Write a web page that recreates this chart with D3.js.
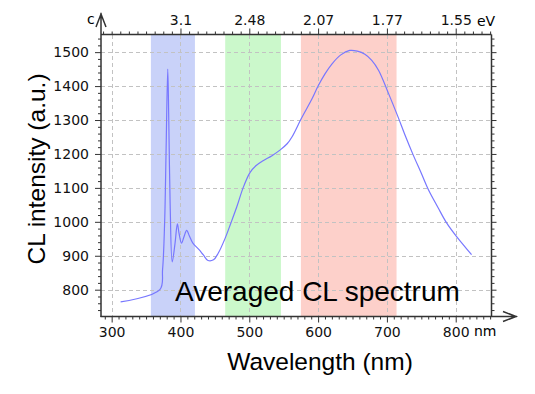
<!DOCTYPE html>
<html>
<head>
<meta charset="utf-8">
<script src="https://cdn.jsdelivr.net/npm/d3@7"></script>
<style>
  body { margin: 0; background: #fff; }
  text { font-family: "DejaVu Sans", Verdana, sans-serif; }
  .title { font-family: "Liberation Sans", Arial, sans-serif; }
  .grid line { stroke: #c2c2c2; stroke-width: 1px; stroke-dasharray: 4 3; shape-rendering: crispEdges; }
</style>
</head>
<body>
<div id="chart"></div>
<script>
// spectrum: wavelength (nm) and CL intensity (a.u.)
const wavelength = [313, 370, 374, 377, 379, 381.5, 383, 385, 388, 392, 395.5, 398, 401.5, 405, 409, 413, 418, 427, 433,
  440, 448, 455, 465, 473, 482, 491, 501, 510, 520, 533, 545, 555, 562, 576, 591, 600, 610, 620, 633, 646, 657, 668,
  678, 688, 702, 716, 727, 738, 750, 760, 774, 787, 801, 812, 823];
const intensity = [764, 800, 860, 1000, 1200, 1450, 1300, 1050, 882, 935, 994, 965, 937, 955, 975, 958, 937, 918, 903,
  886, 888, 908, 952, 995, 1045, 1100, 1145, 1166, 1180, 1195, 1212, 1230, 1250, 1306, 1362, 1400, 1436, 1465, 1492, 1505, 1503, 1494,
  1476, 1446, 1380, 1310, 1252, 1198, 1143, 1096, 1043, 996, 957, 930, 903];

// coloured wavelength bands [start, end] in nm
const bandStart = [357, 465, 575];
const bandEnd = [421, 546, 714];
const bandColor = ["#c9d2f9", "#cbf8cb", "#fdd0ca"];

const xTicks = [300, 400, 500, 600, 700, 800];
const yTicks = [800, 900, 1000, 1100, 1200, 1300, 1400, 1500];
const topTicks = [400, 500, 600, 700, 800];
const topLabels = ["3.1", "2.48", "2.07", "1.77", "1.55"];

const width = 535, height = 394;
const margin = { top: 34.5, right: 43.5, bottom: 77.5, left: 101 };

const svg = d3.select("#chart").append("svg")
  .attr("width", width).attr("height", height);

const x = d3.scaleLinear().domain([284.5, 852]).range([margin.left, width - margin.right]);
const y = d3.scaleLinear().domain([721, 1552]).range([height - margin.bottom, margin.top]);

const pL = margin.left, pR = width - margin.right, pB = height - margin.bottom, pT = margin.top;

// bands
svg.append("g").selectAll("rect")
  .data(bandStart)
  .join("rect")
    .attr("x", (d) => x(d))
    .attr("y", pT)
    .attr("width", (d, i) => x(bandEnd[i]) - x(d))
    .attr("height", pB - pT)
    .attr("fill", (d, i) => bandColor[i]);

// grid
const grid = svg.append("g").attr("class", "grid");
xTicks.forEach(d => {
  const px = Math.round(x(d)) + 0.5;
  grid.append("line").attr("x1", px).attr("x2", px).attr("y1", pT).attr("y2", pB);
});
yTicks.forEach(d => {
  const py = Math.round(y(d)) + 0.5;
  grid.append("line").attr("x1", pL).attr("x2", pR).attr("y1", py).attr("y2", py);
});

// spectrum line
const line = d3.line()
  .x((d, i) => x(wavelength[i]))
  .y(d => y(d))
  .curve(d3.curveCatmullRom.alpha(0.5));

svg.append("path")
  .datum(intensity)
  .attr("fill", "none")
  .attr("stroke", "#7777ff")
  .attr("stroke-width", 1.2)
  .attr("d", line);

// axes
const axisColor = "#333";
function styleAxis(g) {
  g.select(".domain").remove();
  g.selectAll("line").attr("stroke", axisColor);
  g.selectAll("text").attr("fill", "#111").attr("font-size", "14px").attr("font-family", "DejaVu Sans, sans-serif");
}

const minorX = d3.range(290, 851, 10).filter(v => v % 100 !== 0);
const minorY = d3.range(740, 1551, 20).filter(v => v % 100 !== 0);
const minorTop = d3.range(287.5, 851, 12.5).filter(v => !topTicks.includes(v));

svg.append("g").attr("transform", `translate(0,${pB})`)
  .call(d3.axisBottom(x).tickValues(minorX).tickSize(3).tickFormat(""))
  .call(styleAxis);
svg.append("g").attr("transform", `translate(0,${pB})`)
  .call(d3.axisBottom(x).tickValues(xTicks).tickSize(6).tickPadding(5).tickFormat(d3.format("d")))
  .call(styleAxis);

svg.append("g").attr("transform", `translate(0,${pT})`)
  .call(d3.axisTop(x).tickValues(minorTop).tickSize(3).tickFormat(""))
  .call(styleAxis);
svg.append("g").attr("transform", `translate(0,${pT})`)
  .call(d3.axisTop(x).tickValues(topTicks).tickSize(6).tickPadding(4).tickFormat((d, i) => topLabels[i]))
  .call(styleAxis);

svg.append("g").attr("transform", `translate(${pL},0)`)
  .call(d3.axisLeft(y).tickValues(minorY).tickSize(3).tickFormat(""))
  .call(styleAxis);
svg.append("g").attr("transform", `translate(${pL},0)`)
  .call(d3.axisLeft(y).tickValues(yTicks).tickSize(6).tickPadding(6).tickFormat(d3.format("d")))
  .call(styleAxis);

svg.append("g").attr("transform", `translate(${pR},0)`)
  .call(d3.axisRight(y).tickValues(minorY).tickSize(3).tickFormat(""))
  .call(styleAxis);
svg.append("g").attr("transform", `translate(${pR},0)`)
  .call(d3.axisRight(y).tickValues(yTicks).tickSize(5).tickFormat(""))
  .call(styleAxis);

// frame + arrows
const frame = svg.append("g").attr("stroke", axisColor).attr("stroke-width", 1.5).attr("fill", "none");
frame.append("line").attr("x1", pL).attr("x2", pR).attr("y1", pT).attr("y2", pT);
frame.append("line").attr("x1", pR).attr("x2", pR).attr("y1", pT).attr("y2", pB);
frame.append("path").attr("d", `M${pL},${pB + 0.5}V13M${pL - 5},27L${pL},14L${pL + 5},27`);
frame.append("path").attr("d", `M${pL - 0.5},${pB}H517M503,${pB - 5}L516,${pB}L503,${pB + 5}`);

// unit labels
svg.append("text").attr("x", 87).attr("y", 24).attr("font-size", "14px").text("c");
svg.append("text").attr("x", 477).attr("y", 25.5).attr("font-size", "14px").text("eV");
svg.append("text").attr("x", 474).attr("y", 336).attr("font-size", "14px").text("nm");

// titles
svg.append("text").attr("class", "title")
  .attr("transform", "translate(45,169) rotate(-90)")
  .attr("text-anchor", "middle").attr("font-size", "24.5px")
  .text("CL intensity (a.u.)");
svg.append("text").attr("class", "title")
  .attr("x", 320).attr("y", 370)
  .attr("text-anchor", "middle").attr("font-size", "24.5px")
  .text("Wavelength (nm)");
svg.append("text").attr("class", "title")
  .attr("x", 175).attr("y", 300.5)
  .attr("font-size", "28px")
  .text("Averaged CL spectrum");
</script>
</body>
</html>
